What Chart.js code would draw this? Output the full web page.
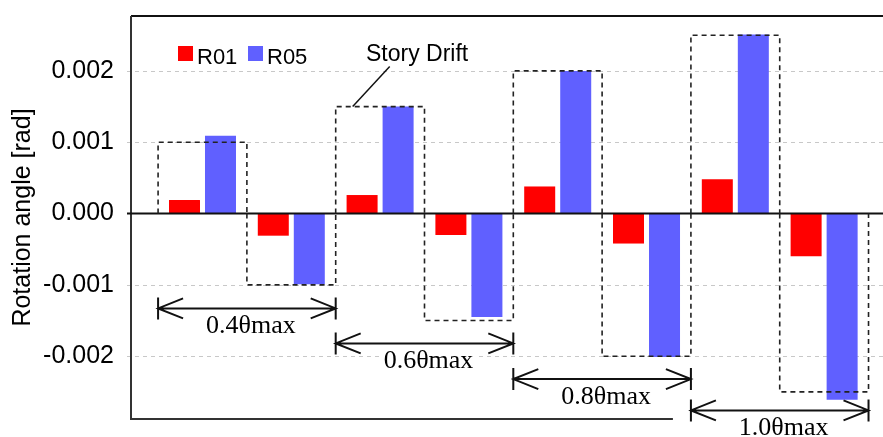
<!DOCTYPE html>
<html>
<head>
<meta charset="utf-8">
<script src="https://cdn.jsdelivr.net/npm/chart.js@4/dist/chart.umd.min.js"></script>
<style>
  html, body { margin: 0; padding: 0; background: #fff; }
  #c { display: block; }
</style>
</head>
<body>
<canvas id="c" width="883" height="437"></canvas>
<script>
// Rotation angle per load step (positive / negative peak of each drift level)
const categories = ['0.4 +', '0.4 -', '0.6 +', '0.6 -', '0.8 +', '0.8 -', '1.0 +', '1.0 -'];
const r01 = [0.00019, -0.00031, 0.00026, -0.00030, 0.00038, -0.00042, 0.00048, -0.00060];
const r05 = [0.00109, -0.00099, 0.00150, -0.00145, 0.00200, -0.00201, 0.00251, -0.00261];
const storyDrift = [0.0010, -0.0010, 0.0015, -0.0015, 0.0020, -0.0020, 0.0025, -0.0025];
const spanLabels = ['0.4θmax', '0.6θmax', '0.8θmax', '1.0θmax'];
const yTicks = [-0.002, -0.001, 0, 0.001, 0.002];

const RED = '#ff0000';
const BLUE = '#6060ff';

// Vertical level (in rad) where each drift-level bracket is drawn
const spanLevels = [-0.00133, -0.00182, -0.00232, -0.00276];

const decor = {
  id: 'decor',
  beforeDatasetsDraw(chart) {
    const { ctx, chartArea: a, scales: { y } } = chart;
    ctx.save();
    // dashed grid lines
    ctx.strokeStyle = '#c8c8c8';
    ctx.lineWidth = 1;
    ctx.setLineDash([4, 4]);
    yTicks.forEach(v => {
      if (v === 0) return;
      const py = Math.round(y.getPixelForValue(v)) + 0.5;
      ctx.beginPath();
      ctx.moveTo(a.left - 4, py);
      ctx.lineTo(a.right, py);
      ctx.stroke();
    });
    ctx.setLineDash([]);
    // top frame line
    ctx.strokeStyle = '#111';
    ctx.lineWidth = 2;
    ctx.beginPath();
    ctx.moveTo(a.left, a.top);
    ctx.lineTo(a.right, a.top);
    ctx.stroke();
    // left axis and bottom line
    ctx.strokeStyle = '#333';
    ctx.beginPath();
    ctx.moveTo(a.left, a.top);
    ctx.lineTo(a.left, a.bottom);
    ctx.lineTo(a.right, a.bottom);
    ctx.stroke();
    ctx.restore();
  },
  afterDatasetsDraw(chart) {
    const { ctx, chartArea: a, scales: { x, y } } = chart;
    ctx.save();
    // zero line
    const y0 = y.getPixelForValue(0);
    ctx.strokeStyle = '#111';
    ctx.lineWidth = 2;
    ctx.beginPath();
    ctx.moveTo(a.left - 4, y0);
    ctx.lineTo(a.right, y0);
    ctx.stroke();

    // story drift boxes
    ctx.strokeStyle = '#222';
    ctx.lineWidth = 1.6;
    ctx.setLineDash([5, 4]);
    storyDrift.forEach((v, i) => {
      const x0 = x.getPixelForValue(i - 0.5);
      const x1 = x.getPixelForValue(i + 0.5);
      const yv = y.getPixelForValue(v);
      ctx.beginPath();
      ctx.moveTo(x0, y0);
      ctx.lineTo(x0, yv);
      ctx.lineTo(x1, yv);
      ctx.lineTo(x1, y0);
      ctx.stroke();
    });
    ctx.setLineDash([]);

    // "Story Drift" callout
    const cx = x.getPixelForValue(1.5);
    const cy = y.getPixelForValue(storyDrift[2]);
    ctx.strokeStyle = '#111';
    ctx.lineWidth = 1.5;
    ctx.beginPath();
    ctx.moveTo(cx + 17, cy);
    ctx.lineTo(cx + 54, cy - 40);
    ctx.stroke();
    ctx.fillStyle = '#000';
    ctx.font = '23px "Liberation Sans", Arial, sans-serif';
    ctx.textBaseline = 'alphabetic';
    ctx.textAlign = 'left';
    ctx.fillText('Story Drift', 366, 61);

    // legend
    const legend = [[RED, chart.data.datasets[0].label, 178], [BLUE, chart.data.datasets[1].label, 248]];
    ctx.font = '22px "Liberation Sans", Arial, sans-serif';
    legend.forEach(([c, t, lx]) => {
      ctx.fillStyle = c;
      ctx.fillRect(lx, 46, 15, 15);
      ctx.fillStyle = '#000';
      ctx.fillText(t, lx + 19, 64);
    });

    // drift level brackets
    ctx.font = '26px "Liberation Serif", "Times New Roman", serif';
    ctx.textAlign = 'center';
    ctx.textBaseline = 'middle';
    spanLabels.forEach((label, k) => {
      const xa = x.getPixelForValue(2 * k - 0.5);
      const xb = x.getPixelForValue(2 * k + 1.5);
      const yy = y.getPixelForValue(spanLevels[k]);
      if (k === spanLabels.length - 1) {
        ctx.fillStyle = '#fff';
        ctx.fillRect(xa - 18, yy + 1, a.right - xa + 18, 40);
      }
      const tx = (xa + xb) / 2 + 4;
      const tw = ctx.measureText(label).width;
      ctx.fillStyle = '#fff';
      ctx.fillRect(tx - tw / 2 - 2, yy + 7, tw + 4, 22);
      ctx.strokeStyle = '#111';
      ctx.lineWidth = 2;
      ctx.beginPath();
      ctx.moveTo(xa, yy - 11); ctx.lineTo(xa, yy + 11);
      ctx.moveTo(xb, yy - 11); ctx.lineTo(xb, yy + 11);
      ctx.moveTo(xa, yy); ctx.lineTo(xb, yy);
      ctx.moveTo(xa + 25, yy - 10); ctx.lineTo(xa, yy); ctx.lineTo(xa + 25, yy + 10);
      ctx.moveTo(xb - 25, yy - 10); ctx.lineTo(xb, yy); ctx.lineTo(xb - 25, yy + 10);
      ctx.stroke();
      ctx.fillStyle = '#000';
      ctx.fillText(label, tx, yy + 18);
    });
    ctx.restore();
  }
};

new Chart(document.getElementById('c'), {
  type: 'bar',
  data: {
    datasets: [
      { label: 'R01', data: r01.map((v, i) => ({ x: i, y: v })), backgroundColor: RED },
      { label: 'R05', data: r05.map((v, i) => ({ x: i, y: v })), backgroundColor: BLUE }
    ]
  },
  options: {
    responsive: false,
    animation: false,
    devicePixelRatio: 1,
    categoryPercentage: 0.811,
    barPercentage: 0.861,
    layout: { padding: { left: 0, right: 0, top: 16, bottom: 18 } },
    plugins: { legend: { display: false }, tooltip: { enabled: false } },
    scales: {
      x: {
        type: 'linear',
        offset: false,
        min: -0.805,
        max: 7.663,
        display: false,
        afterBuildTicks: s => { s.ticks = categories.map((_, i) => ({ value: i })); }
      },
      y: {
        position: 'left',
        min: -0.00288,
        max: 0.00277,
        afterBuildTicks: s => { s.ticks = yTicks.map(v => ({ value: v })); },
        afterFit: s => { s.width = 131; s.paddingTop = 0; s.paddingBottom = 0; },
        grid: { display: false, drawTicks: false },
        border: { display: false },
        ticks: {
          padding: 17,
          color: '#000',
          font: { family: '"Liberation Sans", Arial, sans-serif', size: 25 },
          callback: v => Number(v).toFixed(3)
        },
        title: {
          display: true,
          text: 'Rotation angle [rad]',
          color: '#000',
          font: { family: '"Liberation Sans", Arial, sans-serif', size: 25 },
          padding: { top: 8, bottom: 0 }
        }
      }
    }
  },
  plugins: [decor]
});
</script>
</body>
</html>
